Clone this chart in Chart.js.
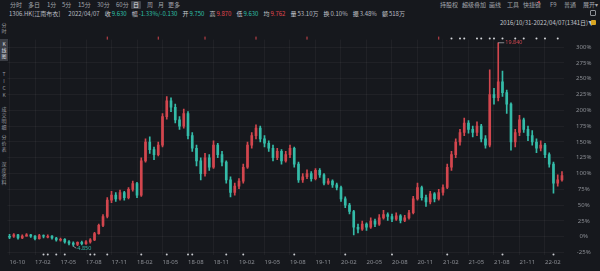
<!DOCTYPE html>
<html>
<head>
<meta charset="utf-8">
<script src="https://cdn.jsdelivr.net/npm/chart.js@4.4.1/dist/chart.umd.min.js"></script>
<style>
html, body { margin: 0; padding: 0; background: #16181d; }
body { width: 600px; height: 271px; position: relative; overflow: hidden;
       font-family: "Noto Sans CJK SC", "Noto Sans", sans-serif; color: #b8bbc1; }
.t { position: absolute; font-size: 6px; line-height: 8px; white-space: nowrap; }
.tab { color: #a3a6ac; }
.on { background: #41444b; color: #e6e7ea; padding: 0 2px; border-radius: 1px; }
#quote { position: absolute; left: 9px; top: 10px; font-size: 6px; line-height: 8px; white-space: nowrap; display: flex; gap: 5px; }
#quote b { font-weight: normal; color: #c9ccd1; margin-right: 1px; }
.g { color: #2fc0ab; }
.r { color: #e0474f; }
.side { position: absolute; left: 0; width: 8px; text-align: center; font-size: 5px; line-height: 6px; color: #979aa0; }
.side.on2 { background: #3a3d44; color: #dcdde0; }
#wrap { position: absolute; left: 0; top: 24px; width: 600px; height: 247px; }
.ico { position: absolute; width: 5px; height: 5px; border-radius: 1px; }
</style>
</head>
<body>
<!-- row 1: period tabs + toolbar -->
<span class="t tab" style="left:10px;top:1px">分时</span>
<span class="t tab" style="left:28px;top:1px">多日</span>
<span class="t tab" style="left:47px;top:1px">1分</span>
<span class="t tab" style="left:62px;top:1px">5分</span>
<span class="t tab" style="left:78px;top:1px">15分</span>
<span class="t tab" style="left:97px;top:1px">30分</span>
<span class="t tab" style="left:116px;top:1px">60分</span>
<span class="t on" style="left:131px;top:1px">日</span>
<span class="t tab" style="left:147px;top:1px">周</span>
<span class="t tab" style="left:158px;top:1px">月</span>
<span class="t tab" style="left:168px;top:1px">更多</span>

<span class="t tab" style="left:440px;top:1px">持股权</span>
<span class="t tab" style="left:462px;top:1px">超级叠加</span>
<span class="t tab" style="left:489px;top:1px">画线</span>
<span class="t tab" style="left:507px;top:1px">工具</span>
<span class="t tab" style="left:523px;top:1px">快捷键</span>
<span class="ico" style="left:538px;top:1px;width:2px;height:2px;border-radius:1px;background:#e0474f"></span>
<span class="t tab" style="left:550px;top:1px">F9</span>
<span class="t tab" style="left:564px;top:1px">普通</span>
<span class="t tab" style="left:583px;top:1px">展开▾</span>

<!-- row 2: quote line -->
<div id="quote">
  <span>1306.HK[江南布衣]</span>
  <span style="margin-left:3px">2022/04/07</span>
  <span><b>收</b><span class="g">9.630</span></span>
  <span><b>幅</b><span class="g">-1.33%/-0.130</span></span>
  <span><b>开</b><span class="g">9.750</span></span>
  <span><b>高</b><span class="r">9.870</span></span>
  <span><b>低</b><span class="g">9.630</span></span>
  <span><b>均</b><span class="r">9.762</span></span>
  <span><b>量</b>53.10万</span>
  <span><b>换</b>0.10%</span>
  <span><b>振</b>3.48%</span>
  <span><b>额</b>518万</span>
</div>
<span class="ico" style="left:590px;top:10px;border:1px solid #8d9096;width:4px;height:4px"></span>

<!-- row 3: range -->
<span class="t" style="left:500px;top:19px;color:#c4c7cc">2016/10/31-2022/04/07(1341日)▼</span>
<span class="ico" style="left:591px;top:20px;background:#d8a521"></span>

<!-- left sidebar -->
<div class="side" style="top:22px">分<br>时</div>
<div class="side on2" style="top:39px;padding:2px 0">K<br>线<br>图</div>
<div class="side" style="top:70px;line-height:7px">T<br>I<br>C<br>K</div>
<div class="side" style="top:106px">成<br>交<br>明<br>细</div>
<div class="side" style="top:134px">分<br>价<br>表</div>
<div class="side" style="top:161px">深<br>度<br>资<br>料</div>

<div id="wrap"><canvas id="kChart"></canvas></div>

<script>
// --- Data (percent change vs. first close, half-month candles) ---
const xTickLabels = ['16-10', '17-02', '17-05', '17-08', '17-11', '18-02', '18-05', '18-08', '18-11',
    '19-02', '19-05', '19-08', '19-11', '20-02', '20-05', '20-08', '20-11', '21-02', '21-05', '21-08',
    '21-11', '22-02'];
const yTicks = [-25, 0, 25, 50, 75, 100, 125, 150, 175, 200, 225, 250, 275, 300];

const opens = [1, 0, 3, -2, 1, 3, 1, -3, 2, 0, 1, -2, -5, -4, -8, -10, -12, -9, -11, -8,
    -5, 5, 18, 32, 58, 66, 60, 70, 62, 75, 84, 66, 120, 150, 138, 130, 145, 190, 215, 205,
    185, 175, 195, 160, 140, 120, 100, 125, 110, 145, 130, 118, 90, 70, 80, 88, 110, 145, 160, 172,
    155, 148, 140, 125, 135, 120, 130, 140, 115, 90, 95, 100, 92, 105, 98, 85, 88, 82, 78, 60,
    50, 40, 15, 12, 20, 15, 25, 20, 30, 35, 32, 28, 33, 26, 30, 38, 60, 78, 62, 55,
    68, 60, 70, 78, 110, 130, 150, 165, 180, 170, 165, 175, 155, 145, 225, 220, 245, 228, 210, 150,
    165, 185, 170, 160, 150, 140, 145, 130, 115, 85, 90];
const highs = [4, 5, 4, 3, 5, 4, 2, 4, 3, 3, 2, -1, -2, -3, -6, -8, -8, -7, -6, -3,
    7, 20, 35, 62, 72, 70, 74, 72, 78, 88, 86, 125, 155, 158, 142, 150, 195, 222, 220, 210,
    190, 202, 198, 165, 145, 125, 132, 130, 152, 148, 135, 120, 95, 85, 92, 115, 150, 165, 177, 175,
    160, 152, 145, 140, 138, 135, 145, 142, 118, 100, 106, 103, 108, 108, 100, 92, 90, 85, 80, 63,
    53, 42, 20, 25, 22, 30, 28, 35, 42, 38, 36, 38, 35, 34, 42, 64, 85, 80, 66, 72,
    70, 75, 82, 115, 135, 155, 170, 188, 184, 175, 182, 178, 160, 264, 235, 307, 262, 232, 212, 170,
    192, 188, 175, 168, 155, 152, 148, 133, 118, 98, 103];
const lows = [-3, -1, -4, -3, 0, -1, -5, -4, -2, -2, -4, -7, -7, -10, -13, -15, -14, -13, -12, -10,
    -6, 4, 16, 30, 54, 56, 58, 58, 60, 72, 62, 64, 118, 132, 122, 128, 142, 186, 198, 180,
    170, 172, 155, 135, 112, 90, 96, 105, 108, 125, 112, 85, 63, 66, 76, 85, 108, 140, 155, 150,
    142, 135, 120, 122, 115, 118, 125, 110, 86, 86, 92, 88, 90, 94, 82, 83, 78, 74, 56, 46,
    36, 3, 6, 10, 10, 13, 16, 18, 28, 26, 24, 26, 22, 24, 28, 36, 58, 58, 48, 52,
    55, 58, 66, 76, 105, 125, 145, 160, 164, 158, 160, 150, 140, 142, 210, 215, 222, 195, 137, 142,
    160, 165, 152, 145, 133, 136, 125, 110, 69, 80, 88];
const closes = [0, 3, -2, 1, 3, 1, -3, 2, 0, 1, -2, -5, -4, -8, -10, -12, -9, -11, -8, -5,
    5, 18, 32, 58, 66, 60, 70, 62, 75, 84, 66, 120, 150, 138, 130, 145, 190, 215, 205, 185,
    175, 195, 160, 140, 120, 100, 125, 110, 145, 130, 118, 90, 70, 80, 88, 110, 145, 160, 172, 155,
    148, 140, 125, 135, 120, 130, 140, 115, 90, 95, 100, 92, 105, 98, 85, 88, 82, 78, 60, 50,
    40, 15, 12, 20, 15, 25, 20, 30, 35, 32, 28, 33, 26, 30, 38, 60, 78, 62, 55, 68,
    60, 70, 78, 110, 130, 150, 165, 180, 170, 165, 175, 155, 145, 225, 220, 245, 228, 210, 150, 165,
    185, 170, 160, 150, 140, 145, 130, 115, 85, 90, 97];

const peakPrice = '19.840';
const lowPrice = '4.850';

// event markers (candle index)
const bottomEvents = [8, 9, 11, 13, 19, 20, 23, 31, 37, 42, 43, 51, 55, 67, 79, 90, 103, 116, 128];
const topRedEvents = [23, 35, 46, 58, 70, 101];
const topNewsEvents = [104, 106, 107, 110, 111, 113, 114, 116, 119, 121, 124, 126, 129];

const upColor = '#d2464e';
const downColor = '#34bba8';
const gridColor = 'rgba(255,255,255,0.045)';
const axisText = '#8b8e94';

const categories = closes.map((_, i) => i);
const candleColors = opens.map((o, i) => closes[i] >= o ? upColor : downColor);

// --- Plugin: markers & high/low labels ---
const markerPlugin = {
    id: 'markers',
    afterDatasetsDraw(chart) {
        const { ctx, chartArea, scales: { x, y } } = chart;
        ctx.save();
        // bottom event dots
        ctx.fillStyle = '#c9cbd0';
        bottomEvents.forEach(i => {
            ctx.beginPath();
            ctx.arc(x.getPixelForValue(i), chartArea.bottom - 1, 1, 0, Math.PI * 2);
            ctx.fill();
        });
        // top red ticks
        ctx.fillStyle = upColor;
        topRedEvents.forEach(i => {
            ctx.fillRect(x.getPixelForValue(i) - 0.5, chartArea.top - 3, 1, 3);
        });
        // top news dots
        ctx.fillStyle = '#d4d6da';
        topNewsEvents.forEach(i => {
            ctx.beginPath();
            ctx.arc(x.getPixelForValue(i), chartArea.top - 1, 1, 0, Math.PI * 2);
            ctx.fill();
        });

        ctx.font = '5.5px "Noto Sans", sans-serif';
        ctx.textBaseline = 'middle';
        ctx.textAlign = 'left';
        // highest high
        const hi = highs.indexOf(Math.max(...highs));
        const hx = x.getPixelForValue(hi), hy = y.getPixelForValue(highs[hi]);
        ctx.strokeStyle = '#b9bcc2';
        ctx.lineWidth = 0.7;
        ctx.beginPath(); ctx.moveTo(hx, hy); ctx.lineTo(hx + 6, hy); ctx.stroke();
        ctx.fillStyle = upColor;
        ctx.fillText(peakPrice, hx + 7, hy);
        // lowest low
        const lo = lows.indexOf(Math.min(...lows));
        const lx = x.getPixelForValue(lo), ly = y.getPixelForValue(lows[lo]);
        ctx.beginPath(); ctx.moveTo(lx, ly); ctx.lineTo(lx + 3, ly + 2); ctx.stroke();
        ctx.fillStyle = downColor;
        ctx.fillText(lowPrice, lx + 4, ly + 2.5);
        ctx.restore();
    }
};

new Chart(document.getElementById('kChart').getContext('2d'), {
    type: 'bar',
    data: {
        labels: categories,
        datasets: [
            {
                // wicks
                data: lows.map((l, i) => [l, highs[i]]),
                backgroundColor: candleColors,
                barThickness: 1,
                grouped: false,
                order: 2
            },
            {
                // bodies
                data: opens.map((o, i) => [o, closes[i]]),
                backgroundColor: candleColors,
                barThickness: 2,
                minBarLength: 1,
                grouped: false,
                order: 1
            }
        ]
    },
    options: {
        responsive: true,
        maintainAspectRatio: false,
        animation: false,
        layout: { padding: { left: 7.4, top: 6, right: 0, bottom: 0 } },
        plugins: { legend: { display: false }, tooltip: { enabled: false } },
        scales: {
            x: {
                grid: { color: gridColor, drawTicks: false, offset: false },
                border: { display: false },
                afterFit: (scale) => { scale.height = 12; },
                ticks: {
                    autoSkip: false,
                    maxRotation: 0,
                    align: 'start',
                    padding: 3,
                    color: axisText,
                    font: { size: 6, family: 'Noto Sans' },
                    callback: (v, i) => i % 6 === 0 ? xTickLabels[i / 6] : null
                }
            },
            y: {
                position: 'right',
                min: -29.5,
                max: 312,
                grid: { color: gridColor, drawTicks: false },
                border: { display: false },
                afterFit: (scale) => { scale.width = 35.9; },
                afterBuildTicks: (scale) => { scale.ticks = yTicks.map(v => ({ value: v })); },
                ticks: {
                    crossAlign: 'center',
                    padding: 12,
                    color: axisText,
                    font: { size: 6, family: 'Noto Sans' },
                    callback: (v) => v + '%'
                }
            }
        }
    },
    plugins: [markerPlugin]
});
</script>
</body>
</html>
